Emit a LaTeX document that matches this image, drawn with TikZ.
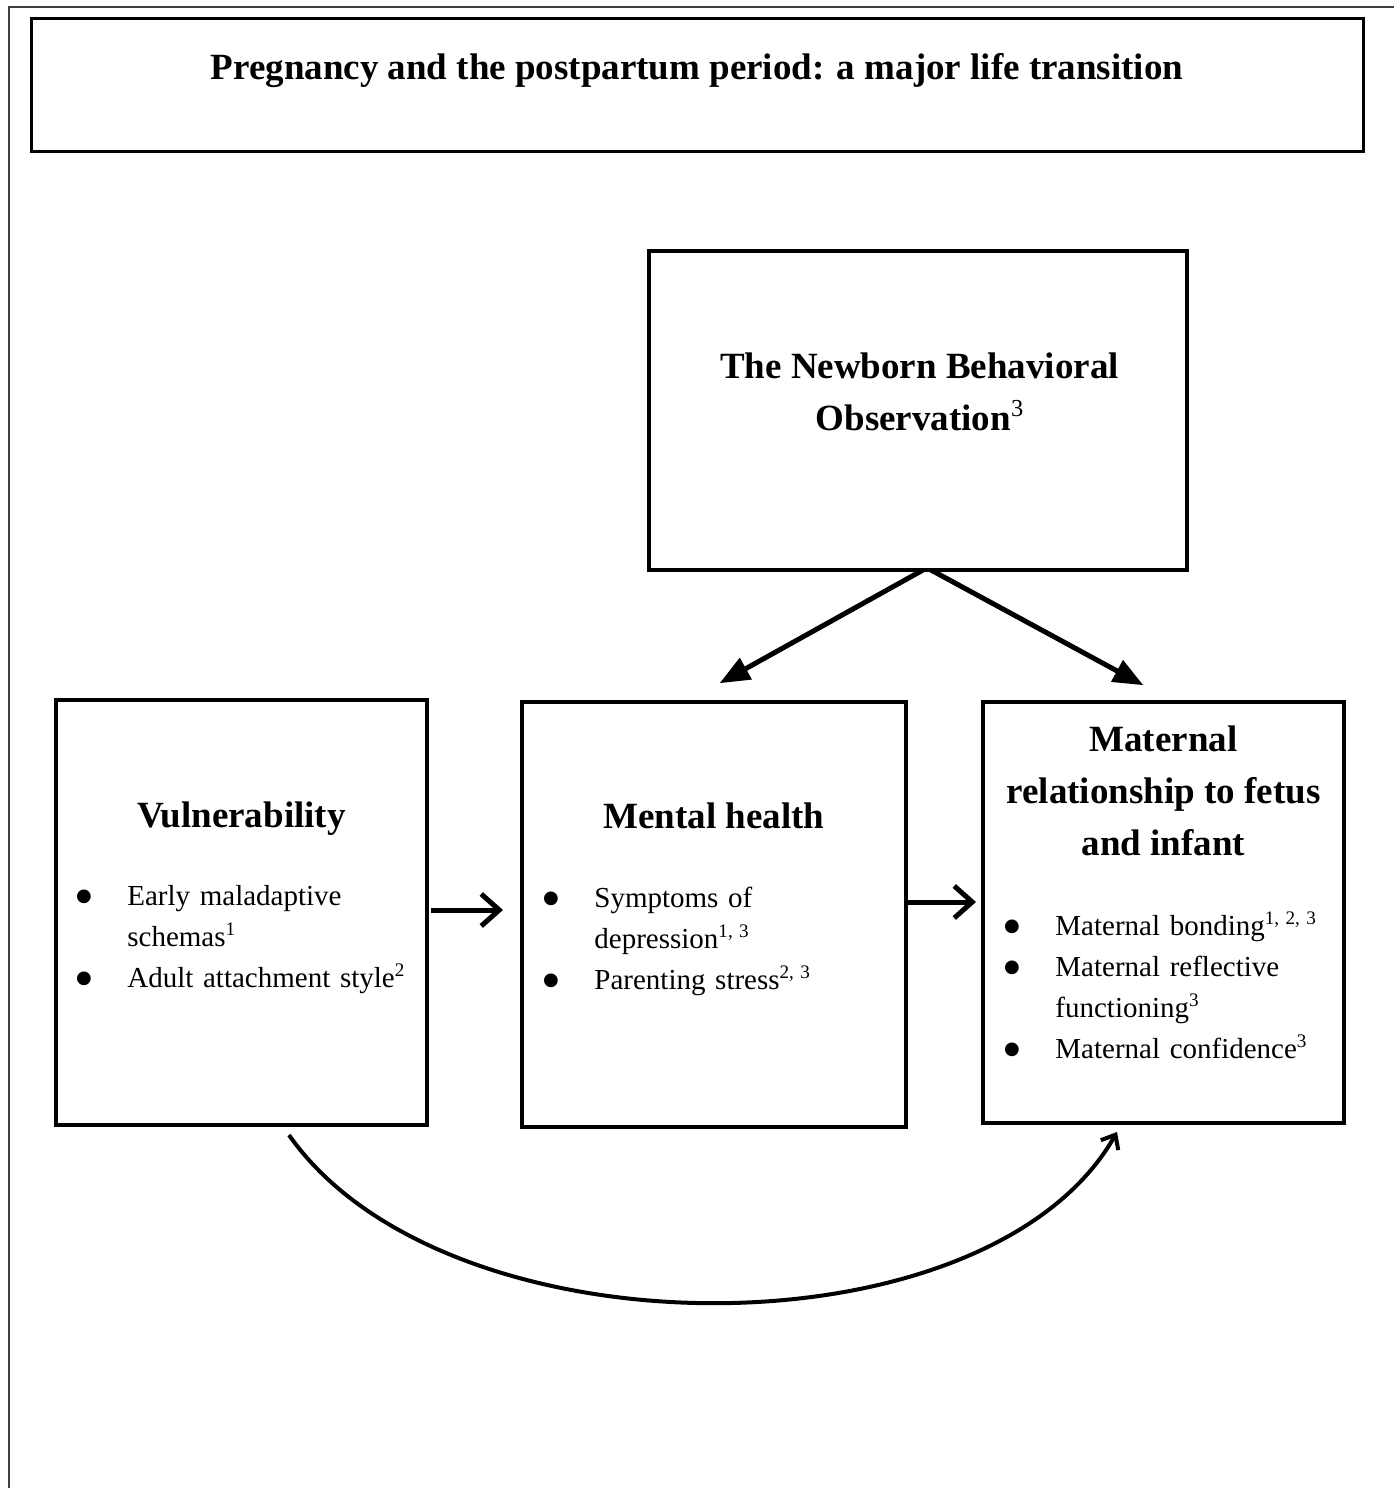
\documentclass[tikz,border=0pt]{standalone}
\usepackage{pgf,tikz}
\usepackage{fontspec}
\setmainfont{Liberation Serif}
\newfontfamily\dotfont{DejaVu Sans}
\usetikzlibrary{arrows,arrows.meta}

\newcommand{\bitem}[1]{\hangindent=26pt\hangafter=1\noindent\makebox[26pt][l]{\hspace{0.3pt}\raisebox{1.8pt}{\dotfont\fontsize{9}{9}\selectfont ●}}#1\par}
\newcommand{\supnum}[1]{\raisebox{0.36em}{\scalebox{0.66}{#1}}}

\begin{document}
\begin{tikzpicture}[x=0.5pt,y=0.5pt,>=triangle 45,
		box/.style={draw,line width=2pt,inner sep=0pt,outer sep=0pt},
		head/.style={font=\fontsize{18.5}{26}\selectfont\bfseries,align=center,inner sep=0pt,anchor=base},
		txt/.style={font=\fontsize{14.5}{20.5}\selectfont,text width=#1,align=left,inner sep=0pt,anchor=base west},
		barb/.style={-{Straight Barb[length=9pt,width=16pt]},line width=2.5pt}]
		\useasboundingbox (0,0) rectangle (1394,-1488);
		\draw[line width=1.2pt,black!75] (1394,-7) -- (9,-7) -- (9,-1488);
		
		% title
		\node[box,line width=1.5pt,minimum width=666pt,minimum height=66.75pt] (title) at (697,-84.75) {};
		\node[head] (titletext) at (697,-79) {Pregnancy and the postpartum period: a major life transition};
		
		% boxes
		\node[box,minimum width=269pt,minimum height=159.5pt] (nbo) at (918,-410.5) {};
		\node[box,minimum width=185.5pt,minimum height=212.5pt] (vuln) at (241.5,-912.5) {};
		\node[box,minimum width=192pt,minimum height=212.5pt] (mental) at (714,-914.5) {};
		\node[box,minimum width=180.5pt,minimum height=210.5pt] (maternal) at (1163.5,-912.5) {};
		
		% headings (base = last line)
		\node[head] (nbohead) at (919.5,-430) {The Newborn Behavioral\\Observation\supnum{\mdseries 3}};
		\node[head] (vulnhead) at (241.5,-827) {Vulnerability};
		\node[head] (mentalhead) at (714,-828) {Mental health};
		\node[head] (maternalhead) at (1163.5,-855) {Maternal\\relationship to fetus\\and infant};
		
		\node[txt=174pt] (vulnlist) at (75,-905) {\bitem{Early maladaptive\newline schemas\supnum{1}}
			\bitem{Adult attachment style\supnum{2}}};
		\node[txt=180pt] (mentallist) at (542,-907) {\bitem{Symptoms of\newline depression\supnum{1, 3}}
			\bitem{Parenting stress\supnum{2, 3}}};
		\node[txt=168pt] (maternallist) at (1003,-935) {\bitem{Maternal bonding\supnum{1, 2, 3}}
			\bitem{Maternal reflective\newline functioning\supnum{3}}
			\bitem{Maternal confidence\supnum{3}}};
		
		% arrows
		\draw[->,line width=2.5pt] ([shift={(5,0)}]nbo.south) -- ([shift={(6,19)}]mental.north);
		\draw[->,line width=2.5pt] ([shift={(13,0)}]nbo.south) -- ([shift={(-20.5,17)}]maternal.north);
		\draw[barb] ([shift={(4,2.5)}]vuln.east) -- ([shift={(-19,4.5)}]mental.west);
		\draw[barb] ([shift={(1,12.5)}]mental.east) -- ([shift={(-7,10.5)}]maternal.west);
		\draw[-{Straight Barb[length=6pt,width=10pt]},line width=2pt] ([shift={(47.5,-10)}]vuln.south) .. controls +(157,-224) and +(-129,-227) .. ([shift={(-46.5,-9)}]maternal.south);
	\end{tikzpicture}
\end{document}
